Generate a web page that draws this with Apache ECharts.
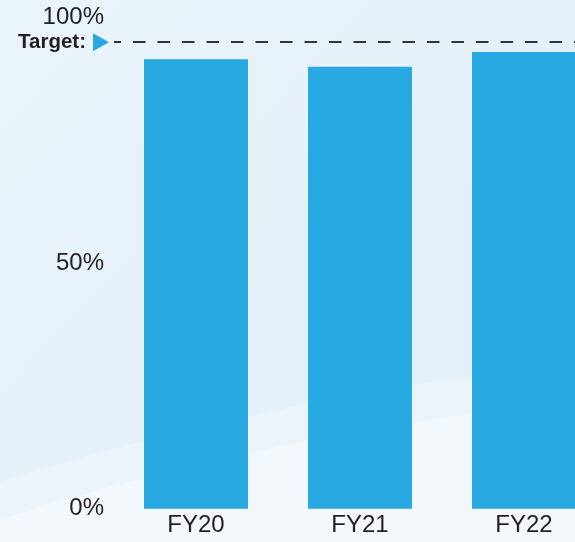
<!DOCTYPE html>
<html lang="en">
<head>
    <meta charset="UTF-8">
    <title>Target vs FY</title>
    <script src="https://cdn.jsdelivr.net/npm/echarts@6/dist/echarts.min.js"></script>
    <style>
        html, body { margin: 0; padding: 0; }
        #chart { width: 575px; height: 542px; }
    </style>
</head>
<body>
    <div id="chart"></div>
    <script>
        var categories = ['FY20', 'FY21', 'FY22'];
        var values = [91.5, 90, 93];
        var target = 95;
        var yTicks = [0, 50, 100];

        var font = '"Liberation Sans", Arial, sans-serif';

        // background swoosh: quadratic curve from left edge to right edge, closed at the bottom
        function swoosh(y0, cx, cy, y1) {
            var pts = [];
            for (var i = 0; i <= 40; i++) {
                var t = i / 40;
                var x = 2 * (1 - t) * t * cx + t * t * 575;
                var y = (1 - t) * (1 - t) * y0 + 2 * (1 - t) * t * cy + t * t * y1;
                pts.push([x, y]);
            }
            pts.push([575, 542], [0, 542]);
            return pts;
        }

        var myChart = echarts.init(document.getElementById('chart'));
        myChart.setOption({
            animation: false,
            backgroundColor: {
                type: 'linear', x: 0, y: 0, x2: 1, y2: 1,
                colorStops: [
                    { offset: 0, color: '#eaf4fb' },
                    { offset: 0.5, color: '#e5f1fa' },
                    { offset: 1, color: '#e4f0f9' }
                ]
            },
            graphic: [
                {
                    type: 'polygon', z: -10, silent: true,
                    shape: { points: swoosh(482, 260, 400, 362) },
                    style: { fill: '#ebf4fb' }
                },
                {
                    type: 'polygon', z: -9, silent: true,
                    shape: { points: swoosh(520, 250, 438, 400) },
                    style: { fill: '#f3f8fc' }
                }
            ],
            grid: { left: 114, width: 492, top: 17.6, height: 491.2, outerBoundsMode: 'none' },
            xAxis: {
                type: 'category',
                data: categories,
                axisLine: { show: false },
                axisTick: { show: false },
                axisLabel: { color: '#231f20', fontSize: 24, fontFamily: font, margin: 5 }
            },
            yAxis: {
                type: 'value',
                min: yTicks[0],
                max: yTicks[yTicks.length - 1],
                interval: yTicks[1] - yTicks[0],
                splitLine: { show: false },
                axisLine: { show: false },
                axisTick: { show: false },
                axisLabel: { color: '#231f20', fontSize: 24, fontFamily: font, margin: 10, formatter: '{value}%' }
            },
            series: [{
                type: 'bar',
                data: values,
                barWidth: 104,
                itemStyle: { color: '#29a9e1' },
                markLine: {
                    silent: true,
                    symbol: 'none',
                    data: [
                        // dashed target line with its label
                        {
                            yAxis: target,
                            lineStyle: { color: '#333', width: 2, type: [12.5, 12], dashOffset: 5.5 },
                            label: {
                                show: true,
                                position: 'start',
                                distance: 28,
                                formatter: 'Target:',
                                color: '#231f20',
                                fontSize: 20.5,
                                fontWeight: 'bold',
                                fontFamily: font
                            }
                        },
                        // blue arrow marker only (no stroke); its end twin falls outside the canvas
                        {
                            yAxis: target,
                            symbol: 'triangle',
                            symbolSize: [18, 16],
                            symbolRotate: -90,
                            symbolOffset: [0, 13],
                            lineStyle: { color: '#29a9e1', width: 0 },
                            label: { show: false }
                        }
                    ]
                }
            }]
        });
    </script>
</body>
</html>
